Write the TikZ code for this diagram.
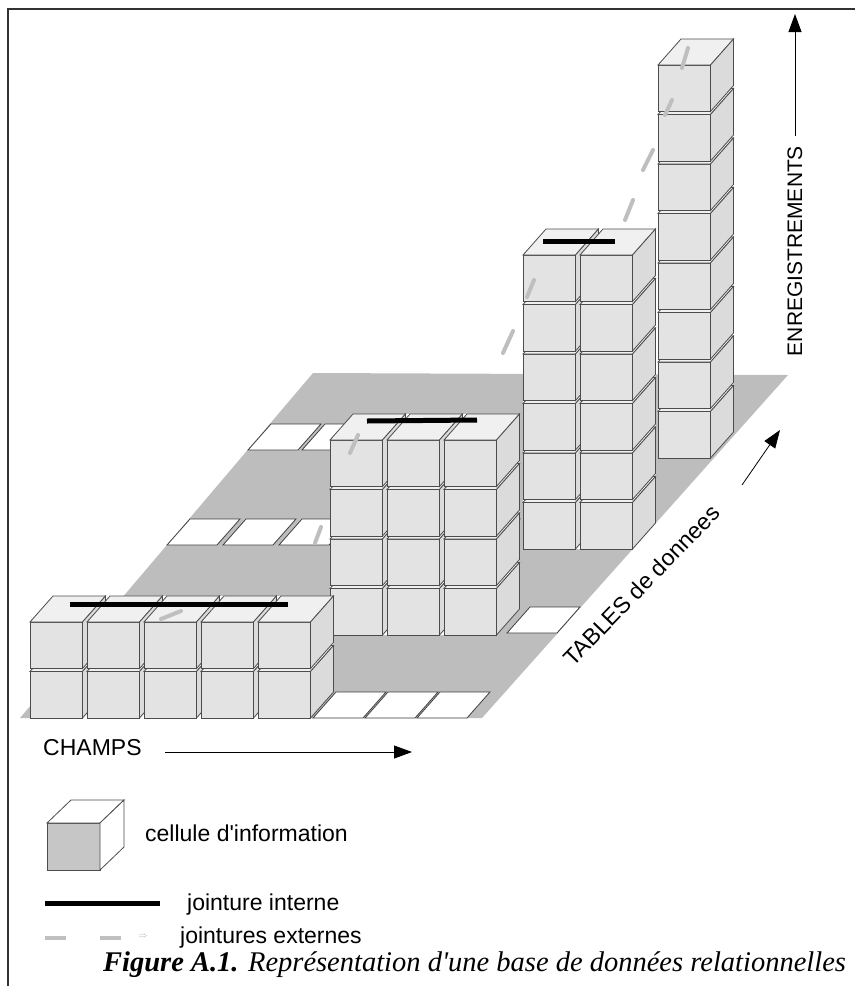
\documentclass[tikz,border=0pt]{standalone}
\usepackage{fontspec}
\setmainfont{Liberation Serif}
\setsansfont{Liberation Sans}
\usepackage{xcolor}
\usepackage{tikz}
\usetikzlibrary{arrows, arrows.meta}
\pgfdeclarelayer{bg}
\pgfsetlayers{bg,main}

% one cell, front bottom-left corner at (#1,#2)
\newcommand{\infocell}[2]{%
	\filldraw[cellfront] (#1,#2) rectangle ++(52.5,-46.5);
	\filldraw[celltop] (#1,#2-46.5) -- ++(23,-26) -- ++(52.5,0) -- ++(-23,26) -- cycle;
	\filldraw[cellside] (#1+52.5,#2) -- ++(23,-26) -- ++(0,-46.5) -- ++(-23,26) -- cycle;
}
% a table: corner, fields, records
\newcommand{\infotable}[4]{%
	\fill[white] (#1,#2) -- ++(#3*57-4.5,0) -- ++(23,-26) -- ++(0,-#4*49.5+3) -- ++(-#3*57+4.5,0) -- ++(-23,26) -- cycle;
	\foreach \c in {1,...,#3}{
		\foreach \r in {1,...,#4}{
			\infocell{#1+\c*57-57}{#2-\r*49.5+49.5}
		}
	}
}
% empty place on the floor
\newcommand{\floortile}[2]{%
	\filldraw[tile] (#1,#2) -- ++(50,0) -- ++(23,-26) -- ++(-50,0) -- cycle;
}

\begin{document}
\begin{tikzpicture}[x=1pt, y=-1pt,
		cellfront/.style={fill=gray!22, draw=black!70, line width=0.8pt},
		celltop/.style={fill=gray!12, draw=black!70, line width=0.8pt},
		cellside/.style={fill=gray!28, draw=black!70, line width=0.8pt},
		tile/.style={fill=white, draw=black!75, line width=0.8pt},
		floor/.style={fill=gray!52},
		innerjoin/.style={line width=5pt, black},
		outerjoin/.style={line width=4pt, gray!50, line cap=round},
		axisarrow/.style={-{Triangle[length=18pt, width=13pt]}, line width=0.8pt},
		lbl/.style={font=\sffamily\fontsize{23}{27}\selectfont, inner sep=0pt}]
	\useasboundingbox (0,0) rectangle (855,986);

	% frame
	\draw[line width=1.6pt, black!80] (8,986) -- (8,9) -- (855,9);

	% floor and free places
	\begin{pgfonlayer}{bg}
		\fill[floor] (20,718) -- (482,718) -- (788,375) -- (313,373) -- cycle;
		\foreach \x in {313,365,417} {\floortile{\x}{718}}
		\floortile{507}{633}
		\foreach \x in {167,223,279,335,391,447} {\floortile{\x}{545}}
		\foreach \x in {248,302,356,410} {\floortile{\x}{450}}
	\end{pgfonlayer}

	% tables, back to front
	\infotable{658}{458}{1}{8}
	\infotable{523}{549}{2}{6}
	\infotable{330}{635}{3}{4}
	\infotable{30}{718}{5}{2}

	% internal joins
	\draw[innerjoin] (70,604) -- (288,604);
	\draw[innerjoin] (367,421) -- (477,420);
	\draw[innerjoin] (543,241) -- (615,241);

	% external joins
	\foreach \xa/\ya/\xb/\yb in {161/619/181/611, 315/543/321/527, 350/453/358/435,
			503/353/513/331, 527/297/534/280, 625/220/633/200, 643/170/653/150,
			665/115/672/100, 682/68/688/48}
		\draw[outerjoin] (\xa,\ya) -- (\xb,\yb);

	% axes
	\node[lbl, anchor=west] (champs) at (43,748) {CHAMPS};
	\coordinate (champsA) at (165,752);
	\coordinate (champsB) at (412,752);
	\draw[axisarrow] (champsA) -- (champsB);

	\node[lbl, rotate=90, font=\sffamily\fontsize{21}{25}\selectfont] (enreg) at (795,251) {ENREGISTREMENTS};
	\coordinate (enregA) at (795,136);
	\coordinate (enregB) at (795,14);
	\draw[axisarrow] (enregA) -- (enregB);

	\node[lbl, rotate=46, anchor=base west] (tables) at (573,668) {TABLES de donnees};
	\coordinate (tablesA) at (742,485);
	\coordinate (tablesB) at (780,430);
	\draw[axisarrow] (tablesA) -- (tablesB);

	% legend
	\filldraw[draw=black!70, line width=0.8pt, fill=gray!45] (47,870) rectangle ++(53,-47);
	\filldraw[draw=black!70, line width=0.8pt, fill=white] (47,823) -- ++(24,-23) -- ++(53,0) -- ++(-24,23) -- cycle;
	\filldraw[draw=black!70, line width=0.8pt, fill=white] (100,870) -- ++(24,-23) -- ++(0,-47) -- ++(-24,23) -- cycle;
	\node[lbl, anchor=west] (cellkey) at (145,833) {cellule d\textquotesingle information};

	\coordinate (innerA) at (45,903);
	\coordinate (innerB) at (160,903);
	\draw[innerjoin] (innerA) -- (innerB);
	\node[lbl, anchor=west] (innerkey) at (187,905) {jointure interne};

	\draw[outerjoin, line cap=butt] (45,938) -- (66,938);
	\draw[outerjoin, line cap=butt] (100,938) -- (121,938);
	\node[text=gray!60, font=\fontsize{9}{9}\selectfont] (mark) at (143,937) {$\Rightarrow$};
	\node[lbl, anchor=west] (outerkey) at (180,938) {jointures externes};

	% caption
	\node[anchor=base west, inner sep=0pt, font=\fontsize{28.5}{32}\selectfont] (caption) at (103,971)
		{\textbf{\textit{Figure A.1.}} \textit{Représentation d\textquotesingle une base de données relationnelles}};
\end{tikzpicture}
\end{document}
